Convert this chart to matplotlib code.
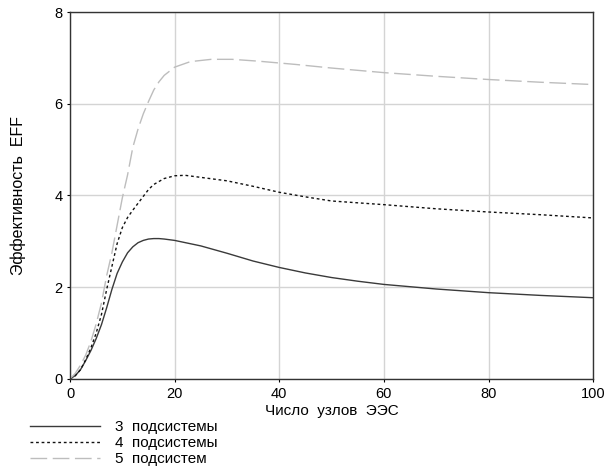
import matplotlib
matplotlib.use("Agg")
import matplotlib.pyplot as plt

# 3 подсистемы
x3 = [0, 1, 2, 3, 4, 5, 6, 7, 8, 9, 10, 11, 12, 13, 14, 15, 16, 17, 18, 20, 25, 30, 35, 40, 45, 50, 55, 60, 70, 80, 90, 100]
y3 = [0, 0.07, 0.2, 0.4, 0.62, 0.88, 1.18, 1.55, 1.95, 2.3, 2.55, 2.75, 2.88, 2.97, 3.02, 3.05, 3.06, 3.06, 3.05, 3.02, 2.9, 2.74, 2.57, 2.43, 2.31, 2.21, 2.13, 2.06, 1.96, 1.88, 1.82, 1.77]

# 4 подсистемы
x4 = [0, 1, 2, 3, 4, 5, 6, 7, 8, 9, 10, 11, 12, 13, 14, 15, 16, 18, 20, 22, 26, 30, 35, 40, 45, 50, 55, 60, 70, 80, 90, 100]
y4 = [0, 0.07, 0.2, 0.42, 0.68, 1.0, 1.4, 1.95, 2.45, 2.95, 3.3, 3.52, 3.68, 3.83, 3.98, 4.13, 4.24, 4.37, 4.43, 4.44, 4.38, 4.32, 4.2, 4.07, 3.97, 3.88, 3.84, 3.8, 3.71, 3.64, 3.58, 3.51]

# 5 подсистем
x5 = [0, 1, 2, 3, 4, 5, 6, 7, 8, 9, 10, 11, 12, 13, 14, 15, 16, 17, 18, 20, 23, 27, 31, 36, 43, 50, 60, 70, 80, 90, 100]
y5 = [0, 0.12, 0.3, 0.52, 0.82, 1.2, 1.65, 2.25, 2.75, 3.35, 3.95, 4.45, 5.05, 5.45, 5.78, 6.05, 6.3, 6.48, 6.62, 6.8, 6.92, 6.97, 6.97, 6.93, 6.86, 6.78, 6.68, 6.6, 6.53, 6.47, 6.42]

labels = ["3  подсистемы", "4  подсистемы", "5  подсистем"]

plt.rcParams["font.family"] = ["Liberation Sans", "DejaVu Sans"]
fig = plt.figure(figsize=(6.09, 4.66), dpi=100)
ax = fig.add_axes([0.115, 0.187, 0.859, 0.787])

ax.plot(x3, y3, color="#3a3a3a", linewidth=1.0, label=labels[0])
ax.plot(x4, y4, color="#111111", linewidth=1.0, linestyle=(0, (2, 2)), label=labels[1])
ax.plot(x5, y5, color="#bdbdbd", linewidth=1.0, linestyle=(0, (12, 4)), label=labels[2])

ax.set_xlim(0, 100)
ax.set_ylim(0, 8)
ax.set_xticks([0, 20, 40, 60, 80, 100])
ax.set_yticks([0, 2, 4, 6, 8])
ax.grid(True, color="#d4d4d4", linewidth=1.0)
ax.set_axisbelow(True)
ax.tick_params(labelsize=10.5, length=2, width=0.8)
ax.tick_params(axis="x", pad=4)
for s in ax.spines.values():
    s.set_color("#333333")
    s.set_linewidth(1.0)

ax.set_xlabel("Число  узлов  ЭЭС", fontsize=11, labelpad=2)
ax.set_ylabel("Эффективность  EFF", fontsize=11.5, labelpad=20)

fig.legend(loc="upper left", bbox_to_anchor=(0.049, 0.098), frameon=False,
           fontsize=11, handlelength=4.6, handletextpad=1.0, labelspacing=0.12,
           borderpad=0, borderaxespad=0)

fig.savefig("out.png", dpi=100)
